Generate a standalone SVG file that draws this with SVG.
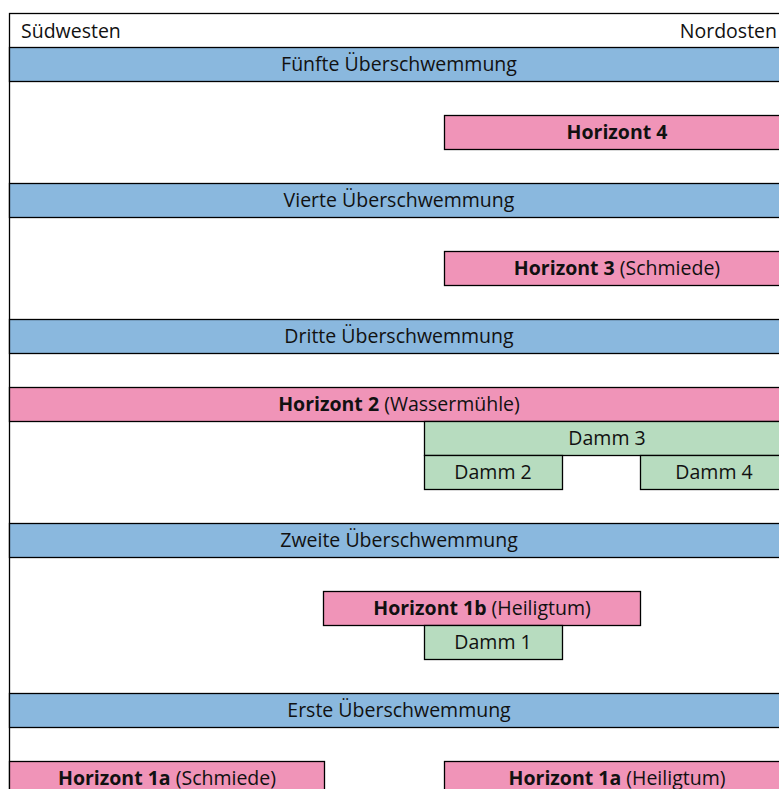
<svg xmlns="http://www.w3.org/2000/svg" width="779" height="789" viewBox="0 0 779 789">
  <style>
    text { font-family: "Open Sans", "Noto Sans", "Liberation Sans", sans-serif; font-size: 19.5px; fill: #111; }
    .c { text-anchor: middle; }
    .b { font-weight: bold; }
    .frame { fill: #fff; stroke: #000; stroke-width: 1.3; }
    .flood { fill: #8ab8de; stroke: #000; stroke-width: 1.3; }
    .hor { fill: #f094b8; stroke: #000; stroke-width: 1.3; }
    .dam { fill: #b7dcbf; stroke: #000; stroke-width: 1.3; }
  </style>

  <!-- outer frame and orientation header -->
  <g id="frame">
    <rect class="frame" x="9.5" y="13.5" width="790" height="800"/>
    <text x="21" y="38">Südwesten</text>
    <text x="777" y="38" text-anchor="end">Nordosten</text>
  </g>

  <!-- flood layers -->
  <g id="flood5">
    <rect class="flood" x="9.5" y="47.5" width="790" height="34"/>
    <text class="c" x="399" y="71">Fünfte Überschwemmung</text>
  </g>
  <g id="flood4">
    <rect class="flood" x="9.5" y="183.5" width="790" height="34"/>
    <text class="c" x="399" y="207">Vierte Überschwemmung</text>
  </g>
  <g id="flood3">
    <rect class="flood" x="9.5" y="319.5" width="790" height="34"/>
    <text class="c" x="399" y="343">Dritte Überschwemmung</text>
  </g>
  <g id="flood2">
    <rect class="flood" x="9.5" y="523.5" width="790" height="34"/>
    <text class="c" x="399" y="547">Zweite Überschwemmung</text>
  </g>
  <g id="flood1">
    <rect class="flood" x="9.5" y="693.5" width="790" height="34"/>
    <text class="c" x="399" y="717">Erste Überschwemmung</text>
  </g>

  <!-- settlement horizons -->
  <g id="horizon4">
    <rect class="hor" x="444.5" y="115.5" width="355" height="34"/>
    <text class="c" x="617" y="139"><tspan class="b">Horizont 4</tspan></text>
  </g>
  <g id="horizon3">
    <rect class="hor" x="444.5" y="251.5" width="355" height="34"/>
    <text class="c" x="617" y="275"><tspan class="b">Horizont 3</tspan> (Schmiede)</text>
  </g>
  <g id="horizon2">
    <rect class="hor" x="9.5" y="387.5" width="790" height="34"/>
    <text class="c" x="399" y="411"><tspan class="b">Horizont 2</tspan> (Wassermühle)</text>
  </g>
  <g id="horizon1b">
    <rect class="hor" x="323.5" y="591.5" width="317" height="34"/>
    <text class="c" x="482" y="615"><tspan class="b">Horizont 1b</tspan> (Heiligtum)</text>
  </g>
  <g id="horizon1a-sw">
    <rect class="hor" x="9.5" y="761.5" width="315" height="34"/>
    <text class="c" x="167" y="785"><tspan class="b">Horizont 1a</tspan> (Schmiede)</text>
  </g>
  <g id="horizon1a-no">
    <rect class="hor" x="444.5" y="761.5" width="355" height="34"/>
    <text class="c" x="617" y="785"><tspan class="b">Horizont 1a</tspan> (Heiligtum)</text>
  </g>

  <!-- dams -->
  <g id="dam3">
    <rect class="dam" x="424.5" y="421.5" width="375" height="34"/>
    <text class="c" x="607" y="445">Damm 3</text>
  </g>
  <g id="dam2">
    <rect class="dam" x="424.5" y="455.5" width="138" height="34"/>
    <text class="c" x="493" y="479">Damm 2</text>
  </g>
  <g id="dam4">
    <rect class="dam" x="640.5" y="455.5" width="159" height="34"/>
    <text class="c" x="714" y="479">Damm 4</text>
  </g>
  <g id="dam1">
    <rect class="dam" x="424.5" y="625.5" width="138" height="34"/>
    <text class="c" x="493" y="649">Damm 1</text>
  </g>

  <g id="connectors"/>
</svg>
